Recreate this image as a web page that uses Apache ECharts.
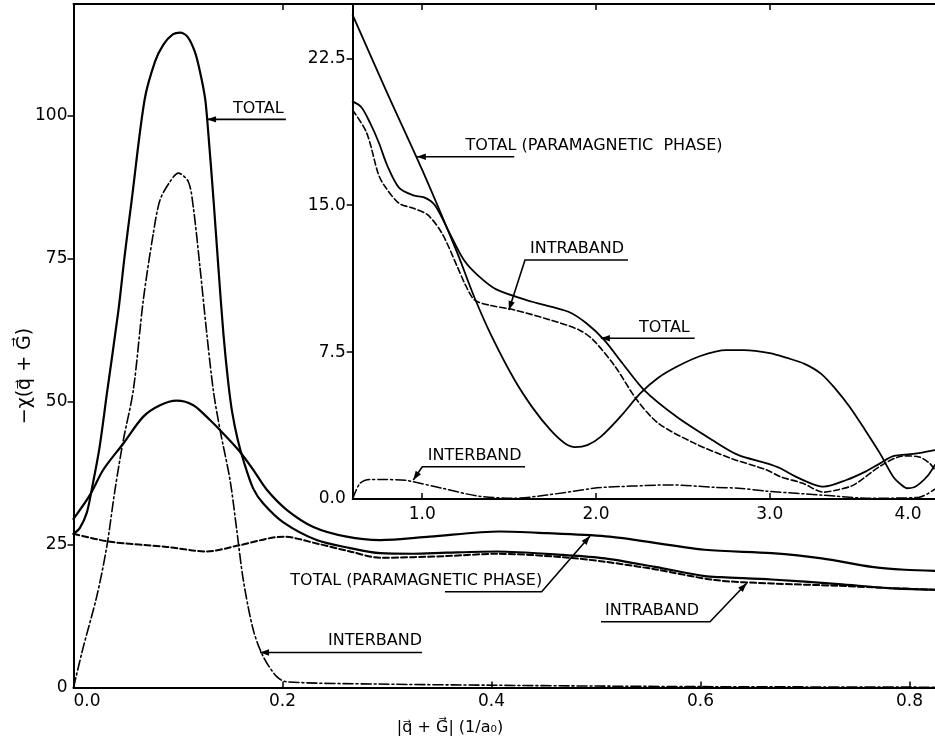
<!DOCTYPE html>
<html><head><meta charset="utf-8">
<script src="https://cdn.jsdelivr.net/npm/echarts@6.0.0/dist/echarts.min.js"></script>
<style>html,body{margin:0;padding:0;background:#fff}#c{width:935px;height:746px}</style>
</head><body><div id="c"></div>
<script>
// ---------------- DATA ----------------
// Main panel: x = |q+G| (1/a0), y = -chi(q+G)
const mainTotalX = [0, 0.006, 0.0126, 0.0174, 0.025, 0.032, 0.043, 0.049, 0.0557, 0.068, 0.078, 0.086, 0.095, 0.102, 0.109, 0.116, 0.121, 0.126, 0.129, 0.134, 0.1386, 0.1434, 0.148, 0.152, 0.157, 0.163, 0.172, 0.1816, 0.2008, 0.2327, 0.2646, 0.2933, 0.325, 0.357, 0.405, 0.4687, 0.5086, 0.5565, 0.604, 0.62, 0.668, 0.732, 0.78, 0.825];
const mainTotalY = [26.9, 27.9, 30.5, 34.6, 42.1, 51.5, 66, 75.6, 85.3, 102.8, 109.5, 112.5, 114.3, 114.6, 113.9, 111.3, 107.8, 103, 97, 85.3, 73.6, 62, 53.5, 48, 43.5, 39.5, 34.8, 32.2, 28.9, 25.8, 24.4, 23.5, 23.4, 23.6, 23.8, 23.2, 22.6, 21.1, 19.5, 19.3, 18.9, 18.1, 17.4, 17.1];

const mainParaX = [0, 0.0158, 0.0285, 0.0477, 0.0668, 0.0828, 0.0987, 0.1147, 0.1306, 0.143, 0.159, 0.172, 0.185, 0.204, 0.2295, 0.2614, 0.2933, 0.341, 0.408, 0.4528, 0.513, 0.604, 0.668, 0.716, 0.764, 0.7957, 0.825];
const mainParaY = [29.5, 33.7, 38.1, 42.7, 47.4, 49.4, 50.2, 49.4, 46.8, 44.5, 41.3, 38.1, 34.6, 31.1, 28.1, 26.4, 25.8, 26.4, 27.3, 27.0, 26.4, 24.1, 23.5, 22.6, 21.1, 20.6, 20.4];

const mainIntraX = [0, 0.035, 0.0892, 0.1274, 0.159, 0.2008, 0.2327, 0.2646, 0.2933, 0.357, 0.405, 0.4687, 0.5086, 0.556, 0.614, 0.668, 0.732, 0.78, 0.825];
const mainIntraY = [26.9, 25.5, 24.6, 23.8, 24.9, 26.4, 25.2, 23.8, 22.7, 23.0, 23.4, 22.8, 22.0, 20.7, 18.8, 18.2, 17.8, 17.4, 17.1];

const mainInterX = [0, 0.0094, 0.0222, 0.0318, 0.0397, 0.0477, 0.0572, 0.0668, 0.0764, 0.0828, 0.0923, 0.1003, 0.1099, 0.1146, 0.121, 0.1275, 0.1338, 0.1402, 0.1498, 0.1562, 0.1625, 0.172, 0.1816, 0.1945, 0.204, 0.293, 0.4, 0.5, 0.6, 0.7, 0.825];
const mainInterY = [0, 7.1, 15.9, 24.6, 34.6, 43.3, 52, 67.8, 79.5, 85.3, 88.5, 90, 88.5, 84.1, 73.6, 62, 52, 45.1, 36.3, 27.6, 18.8, 10.1, 5.4, 1.9, 1.0, 0.6, 0.4, 0.25, 0.15, 0.1, 0.05];

// Inset panel
const insetParaX = [0.6, 0.8, 1.0, 1.2, 1.3, 1.4, 1.53, 1.64, 1.74, 1.82, 1.88, 1.95, 2.03, 2.14, 2.256, 2.36, 2.464, 2.6, 2.75, 2.85, 3.0, 3.1, 3.2, 3.294, 3.38, 3.46, 3.55, 3.634, 3.71, 3.76, 3.79, 3.83, 3.864, 3.91, 3.95];
const insetParaY = [24.7, 20.7, 16.8, 12.6, 10.3, 8.3, 6.1, 4.6, 3.5, 2.85, 2.65, 2.75, 3.2, 4.2, 5.4, 6.2, 6.75, 7.3, 7.6, 7.6, 7.45, 7.2, 6.9, 6.4, 5.6, 4.7, 3.5, 2.33, 1.14, 0.7, 0.55, 0.6, 0.8, 1.2, 1.74];

const insetTotalX = [0.6, 0.65, 0.7, 0.75, 0.8, 0.866, 0.949, 1.011, 1.073, 1.156, 1.24, 1.322, 1.426, 1.633, 1.841, 1.945, 2.049, 2.152, 2.277, 2.464, 2.671, 2.817, 2.983, 3.06, 3.149, 3.25, 3.31, 3.44, 3.55, 3.634, 3.71, 3.826, 3.95];
const insetTotalY = [20.3, 20.0, 19.2, 18.2, 17.0, 15.9, 15.5, 15.4, 15.0, 13.6, 12.2, 11.4, 10.7, 10.07, 9.56, 8.97, 8.1, 6.93, 5.56, 4.2, 3.0, 2.25, 1.82, 1.57, 1.14, 0.75, 0.63, 0.97, 1.4, 1.82, 2.19, 2.3, 2.5];

const insetIntraX = [0.6, 0.68, 0.747, 0.782, 0.866, 0.949, 1.032, 1.114, 1.2, 1.25, 1.301, 1.384, 1.53, 1.737, 1.903, 1.986, 2.111, 2.236, 2.36, 2.568, 2.775, 2.983, 3.06, 3.19, 3.31, 3.38, 3.481, 3.647, 3.771, 3.854, 3.92, 3.95];
const insetIntraY = [19.85, 18.7, 16.6, 16.0, 15.1, 14.84, 14.5, 13.56, 11.9, 10.9, 10.16, 9.9, 9.65, 9.14, 8.63, 8.1, 6.75, 5.05, 3.86, 2.84, 2.08, 1.48, 1.14, 0.8, 0.35, 0.45, 0.71, 1.74, 2.2, 2.16, 1.82, 1.48];

const insetInterX = [0.6, 0.642, 0.7, 0.757, 0.907, 0.949, 1.114, 1.322, 1.53, 1.716, 1.986, 2.052, 2.36, 2.435, 2.671, 2.819, 2.983, 3.2, 3.294, 3.586, 3.854, 3.95];
const insetInterY = [0, 0.8, 1.0, 1.0, 0.95, 0.88, 0.55, 0.15, 0.04, 0.2, 0.55, 0.6, 0.71, 0.72, 0.6, 0.55, 0.4, 0.26, 0.2, 0.04, 0.08, 0.5];

// Tick labels
const mainXTicks = [0, 0.2, 0.4, 0.6, 0.8];
const mainYTicks = [0, 25, 50, 75, 100];
const insetXTickLabels = ['1.0', '2.0', '3.0', '4.0'];
const insetYTicks = [0, 7.5, 15, 22.5];

// Annotation texts
const mainLabels = ['TOTAL', 'TOTAL (PARAMAGNETIC PHASE)', 'INTRABAND', 'INTERBAND'];
const insetLabels = ['TOTAL (PARAMAGNETIC  PHASE)', 'INTRABAND', 'TOTAL', 'INTERBAND'];

// ---------------- LAYOUT ----------------
const FONT = '"DejaVu Sans", sans-serif';
const BLACK = '#000';
const MAIN_X = [0, 0.8244], MAIN_Y = [0, 119.6];
const INSET_X = [0.6, 3.9505], INSET_Y = [0, 25.27];
// the figure prints "4.0" just left of its off-frame tick
const insetXLabelAt = [1, 2, 3, 3.795];

// annotation geometry in data coordinates of each panel (arrow tip first)
const mainAnnoGeom = [
  {path: [[0.1278, 99.42], [0.2033, 99.42]], at: [0.1526, 99.9], align: 'left'},
  {path: [[0.4943, 26.51], [0.448, 16.76], [0.3555, 16.76]], at: [0.4485, 17.35], align: 'right'},
  {path: [[0.6442, 18.23], [0.6091, 11.51], [0.5048, 11.51]], at: [0.5086, 12.05], align: 'left'},
  {path: [[0.1785, 6.12], [0.3335, 6.12]], at: [0.3335, 6.7], align: 'right'}
];
const insetAnnoGeom = [
  {path: [[0.9694, 17.47], [1.5298, 17.47]], at: [1.2496, 17.62], align: 'left'},
  {path: [[1.4987, 9.648], [1.5914, 12.2], [2.184, 12.2]], at: [1.6201, 12.35], align: 'left'},
  {path: [[2.028, 8.203], [2.5678, 8.203]], at: [2.2473, 8.35], align: 'left'},
  {path: [[0.9487, 0.97], [1.0005, 1.649], [1.5914, 1.649]], at: [1.0315, 1.8], align: 'left'}
];

function pairs(xs, ys) { return xs.map((x, i) => [x, ys[i]]); }
function fmt1(v) { return Number(v).toFixed(1); }

const chart = echarts.init(document.getElementById('c'), null, {renderer: 'canvas'});

const axisLine = {show: true, onZero: false, lineStyle: {color: BLACK, width: 2}};
const labelStyle = {color: BLACK, fontSize: 17, fontFamily: FONT};

function lineSeries(xi, yi, data, type, width) {
  return {
    type: 'line', xAxisIndex: xi, yAxisIndex: yi, data: data,
    showSymbol: false, symbol: 'none', smooth: 0.3, silent: true,
    lineStyle: {color: BLACK, width: width, type: type, cap: 'round', join: 'round'}
  };
}

const option = {
  animation: false,
  backgroundColor: '#fff',
  grid: [
    {left: 73.5, top: 4, right: 0, bottom: 58.5},
    {left: 352.7, top: 4, right: 0, bottom: 247, show: true, backgroundColor: '#fff', borderWidth: 0}
  ],
  xAxis: [
    {gridIndex: 0, type: 'value', min: MAIN_X[0], max: MAIN_X[1], position: 'bottom',
     axisLine: axisLine, splitLine: {show: false},
     axisTick: {show: true, inside: true, length: 6, customValues: mainXTicks.slice(1), lineStyle: {color: BLACK, width: 1.5}},
     axisLabel: Object.assign({customValues: mainXTicks, formatter: fmt1, margin: 6, alignMinLabel: 'left'}, labelStyle)},
    {gridIndex: 0, type: 'value', min: MAIN_X[0], max: MAIN_X[1], position: 'top',
     axisLine: axisLine, splitLine: {show: false},
     axisTick: {show: true, inside: true, length: 6, customValues: [0.2], lineStyle: {color: BLACK, width: 1.5}},
     axisLabel: {show: false}},
    {gridIndex: 1, type: 'value', min: INSET_X[0], max: INSET_X[1], position: 'bottom',
     axisLine: axisLine, splitLine: {show: false},
     axisTick: {show: true, inside: true, length: 6, customValues: [1, 2, 3], lineStyle: {color: BLACK, width: 1.5}},
     axisLabel: Object.assign({customValues: insetXLabelAt, margin: 7,
       formatter: function (v) { return insetXTickLabels[insetXLabelAt.indexOf(v)] || fmt1(v); }}, labelStyle)},
    {gridIndex: 1, type: 'value', min: INSET_X[0], max: INSET_X[1], position: 'top',
     axisLine: axisLine, splitLine: {show: false},
     axisTick: {show: true, inside: true, length: 6, customValues: [1, 2, 3], lineStyle: {color: BLACK, width: 1.5}},
     axisLabel: {show: false}}
  ],
  yAxis: [
    {gridIndex: 0, type: 'value', min: MAIN_Y[0], max: MAIN_Y[1],
     axisLine: axisLine, splitLine: {show: false},
     axisTick: {show: true, inside: false, length: 6, customValues: mainYTicks.slice(1), lineStyle: {color: BLACK, width: 1.5}},
     axisLabel: Object.assign({customValues: mainYTicks, margin: 6}, labelStyle)},
    {gridIndex: 1, type: 'value', min: INSET_Y[0], max: INSET_Y[1],
     axisLine: axisLine, splitLine: {show: false},
     axisTick: {show: true, inside: false, length: 6, customValues: insetYTicks.slice(1), lineStyle: {color: BLACK, width: 1.5}},
     axisLabel: Object.assign({customValues: insetYTicks, formatter: fmt1, margin: 7}, labelStyle)}
  ],
  series: [
    lineSeries(0, 0, pairs(mainTotalX, mainTotalY), 'solid', 2.2),
    lineSeries(0, 0, pairs(mainParaX, mainParaY), 'solid', 2.2),
    lineSeries(0, 0, pairs(mainIntraX, mainIntraY), [6, 3], 2),
    lineSeries(0, 0, pairs(mainInterX, mainInterY), [10, 3, 2, 3], 1.6),
    lineSeries(2, 1, pairs(insetParaX, insetParaY), 'solid', 1.8),
    lineSeries(2, 1, pairs(insetTotalX, insetTotalY), 'solid', 1.8),
    lineSeries(2, 1, pairs(insetIntraX, insetIntraY), [6, 3], 1.6),
    lineSeries(2, 1, pairs(insetInterX, insetInterY), [10, 3, 2, 3], 1.5)
  ]
};
chart.setOption(option);

// ---------------- annotations & axis titles ----------------
const graphics = [];
function addAnno(seriesIndex, geom, text) {
  const pts = geom.path.map(p => chart.convertToPixel({seriesIndex: seriesIndex}, p));
  graphics.push({type: 'polyline', silent: true, z: 100, shape: {points: pts},
    style: {stroke: BLACK, lineWidth: 1.6, fill: null}});
  const T = pts[0], P = pts[1];
  const dx = T[0] - P[0], dy = T[1] - P[1], L = Math.hypot(dx, dy) || 1;
  const ux = dx / L, uy = dy / L, nx = -uy, ny = ux;
  const bx = T[0] - ux * 9, by = T[1] - uy * 9;
  graphics.push({type: 'polygon', silent: true, z: 101,
    shape: {points: [[T[0], T[1]], [bx + nx * 3.2, by + ny * 3.2], [bx - nx * 3.2, by - ny * 3.2]]},
    style: {fill: BLACK}});
  const a = chart.convertToPixel({seriesIndex: seriesIndex}, geom.at);
  graphics.push({type: 'text', silent: true, z: 102, x: a[0], y: a[1],
    style: {text: text, fill: BLACK, font: '16px ' + FONT,
      textAlign: geom.align, align: geom.align, textVerticalAlign: 'bottom', verticalAlign: 'bottom'}});
}
mainAnnoGeom.forEach((g, i) => addAnno(0, g, mainLabels[i]));
insetAnnoGeom.forEach((g, i) => addAnno(4, g, insetLabels[i]));

graphics.push({type: 'text', silent: true, x: 25, y: 376, rotation: Math.PI / 2,
  style: {text: '\u2212\u03C7(q\u20D7 + G\u20D7)', fill: BLACK, font: '19px ' + FONT,
    textAlign: 'center', align: 'center', textVerticalAlign: 'middle', verticalAlign: 'middle'}});
graphics.push({type: 'text', silent: true, x: 450, y: 728,
  style: {text: '|q\u20D7 + G\u20D7| (1/a\u2080)', fill: BLACK, font: '16px ' + FONT,
    textAlign: 'center', align: 'center', textVerticalAlign: 'middle', verticalAlign: 'middle'}});

chart.setOption({graphic: {elements: graphics}});
</script>
</body></html>
